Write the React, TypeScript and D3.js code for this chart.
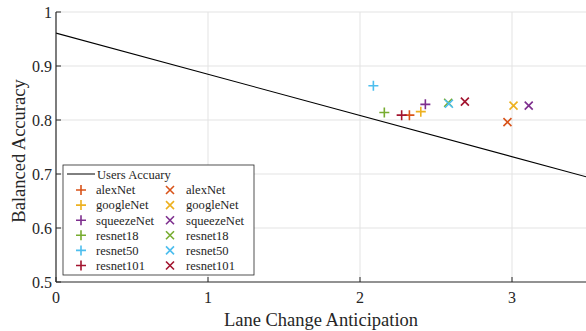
import React from "react";
import * as d3 from "d3";

const models = ["alexNet", "googleNet", "squeezeNet", "resnet18", "resnet50", "resnet101"];
const colors = ["#D95319", "#EDB120", "#7E2F8E", "#77AC30", "#4DBEEE", "#A2142F"];
// "+" series
const plusX = [2.325, 2.40, 2.43, 2.16, 2.088, 2.274];
const plusY = [0.809, 0.8155, 0.829, 0.814, 0.8635, 0.809];
// "x" series
const crossX = [2.97, 3.01, 3.11, 2.58, 2.585, 2.69];
const crossY = [0.796, 0.8265, 0.8265, 0.832, 0.830, 0.834];
// Users accuracy line
const lineX = [0, 3.5];
const lineY = [0.961, 0.694];
const xTicks = [0, 1, 2, 3];
const yTicks = [0.5, 0.6, 0.7, 0.8, 0.9, 1];

const W = 586, H = 331;
const L = 56, R = 588, T = 12, B = 282;
const font = "'Liberation Serif', 'DejaVu Serif', serif";

export default function App() {
  const x = d3.scaleLinear().domain([0, 3.5]).range([L, R]);
  const y = d3.scaleLinear().domain([0.5, 1]).range([B, T]);
  const line = d3.line<number>().x((_, i) => x(lineX[i])).y((_, i) => y(lineY[i]));
  const s = 5;
  const plus = (cx: number, cy: number, c: string, k: string) => (
    <path key={k} d={`M${cx - s},${cy}H${cx + s}M${cx},${cy - s}V${cy + s}`} stroke={c} strokeWidth={1.6} fill="none" />
  );
  const cross = (cx: number, cy: number, c: string, k: string) => {
    const a = s * 0.8;
    return <path key={k} d={`M${cx - a},${cy - a}L${cx + a},${cy + a}M${cx - a},${cy + a}L${cx + a},${cy - a}`} stroke={c} strokeWidth={1.6} fill="none" />;
  };
  const lgX = 63, lgY = 165, lgW = 191, lgH = 110;
  return (
    <svg width={W} height={H} style={{ position: "absolute", left: 0, top: 0 }} fontFamily={font}>
      <rect width={W} height={H} fill="white" />
      <defs>
        <clipPath id="clip"><rect x={L} y={T} width={W - L} height={B - T} /></clipPath>
      </defs>
      {xTicks.filter(t => t > 0).map(t => (
        <line key={"gx" + t} x1={x(t)} x2={x(t)} y1={T} y2={B} stroke="#e3e3e3" strokeWidth={1} />
      ))}
      {yTicks.filter(t => t > 0.5).map(t => (
        <line key={"gy" + t} x1={L} x2={W} y1={y(t)} y2={y(t)} stroke="#e3e3e3" strokeWidth={1} />
      ))}
      <g clipPath="url(#clip)">
        <path d={line(lineX) || ""} stroke="black" strokeWidth={1.1} fill="none" />
        {models.map((m, i) => plus(x(plusX[i]), y(plusY[i]), colors[i], "p" + m))}
        {models.map((m, i) => cross(x(crossX[i]), y(crossY[i]), colors[i], "c" + m))}
      </g>
      <line x1={L} x2={L} y1={T} y2={B} stroke="#262626" strokeWidth={1.2} />
      <line x1={L} x2={W} y1={B} y2={B} stroke="#262626" strokeWidth={1.2} />
      {xTicks.map(t => (
        <g key={"xt" + t}>
          <line x1={x(t)} x2={x(t)} y1={B} y2={B - 5} stroke="#262626" />
          <text x={x(t)} y={B + 21} textAnchor="middle" fontSize={16} fill="#262626">{t}</text>
        </g>
      ))}
      {yTicks.map(t => (
        <g key={"yt" + t}>
          <line x1={L} x2={L + 5} y1={y(t)} y2={y(t)} stroke="#262626" />
          <text x={L - 4} y={y(t) + 5.7} textAnchor="end" fontSize={16} fill="#262626">{t === 1 ? "1" : t.toFixed(1)}</text>
        </g>
      ))}
      <text x={(L + W) / 2} y={326} textAnchor="middle" fontSize={18.5} fill="#262626">Lane Change Anticipation</text>
      <text transform={`translate(25,151) rotate(-90)`} textAnchor="middle" fontSize={18.5} fill="#262626">Balanced Accuracy</text>
      <rect x={lgX} y={lgY} width={lgW} height={lgH} fill="white" stroke="#262626" strokeWidth={0.8} />
      <line x1={67} x2={95} y1={174} y2={174} stroke="black" strokeWidth={1} />
      <text x={97} y={178.5} fontSize={12.6} fill="#262626">Users Accuary</text>
      {models.map((m, i) => {
        const ry = 190 + i * 15.1;
        return (
          <g key={"lg" + m}>
            {plus(81, ry, colors[i], "lp")}
            <text x={96} y={ry + 4.3} fontSize={12.6} fill="#262626">{m}</text>
            {cross(170, ry, colors[i], "lc")}
            <text x={186} y={ry + 4.3} fontSize={12.6} fill="#262626">{m}</text>
          </g>
        );
      })}
    </svg>
  );
}
